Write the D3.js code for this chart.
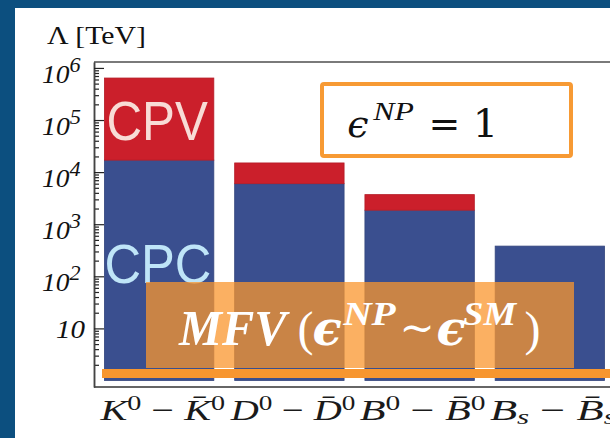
<!DOCTYPE html>
<html>
<head>
<meta charset="utf-8">
<script src="https://cdn.jsdelivr.net/npm/d3@7"></script>
<style>
  html, body { margin: 0; padding: 0; background: #0c4f7f; }
  svg { display: block; }
</style>
</head>
<body>
<svg id="chart" width="610" height="438"></svg>
<script>
// Lower bounds on the new-physics scale Λ for meson mixing (log scale)
const categories = ["K0", "D0", "B0", "Bs"];
const cpcValues = [1.7e4, 6.0e3, 1.86e3, 380];     // CP-conserving bound
const cpvValues = [6.4e5, 1.5e4, 3.7e3, null];     // CP-violating bound
const majorTicks = [10, 1e2, 1e3, 1e4, 1e5, 1e6];
const tickExponents = ["", "2", "3", "4", "5", "6"];
const categoryLabels = [
  [["K", "i"], ["0", "sup"], [" \u2212 ", ""], ["K\u0304", "i"], ["0", "sup"]],
  [["D", "i"], ["0", "sup"], [" \u2212 ", ""], ["D\u0304", "i"], ["0", "sup"]],
  [["B", "i"], ["0", "sup"], [" \u2212 ", ""], ["B\u0304", "i"], ["0", "sup"]],
  [["B", "i"], ["s", "sub"], [" \u2212 ", ""], ["B\u0304", "i"], ["s", "sub"]]
];

const svg = d3.select("#chart");
const serif = "'Liberation Serif', 'DejaVu Serif', serif";
const mathFont = "'DejaVu Serif', 'Liberation Serif', serif";

// slide background and white panel
svg.append("rect").attr("width", 610).attr("height", 438).attr("fill", "#0c4f7f");
svg.append("rect").attr("x", 15).attr("y", 8).attr("width", 595).attr("height", 430).attr("fill", "#ffffff");

const plot = { left: 94, top: 62, right: 610, bottom: 387 };

const y = d3.scaleLog().domain([0.75, 1.3e6]).range([plot.bottom, plot.top]);
const x = d3.scaleBand().domain(categories).range([94, 615]).paddingInner(0.16).paddingOuter(0.08);

const red = "#cb1f2b";
const blue = "#3a4f8f";

// squeeze a text group horizontally so that it spans [x0, x1]
function fit(sel, x0, x1) {
  const b = sel.node().getBBox();
  const sx = (x1 - x0) / b.width;
  sel.attr("transform", `translate(${x0},0) scale(${sx},1) translate(${-b.x},0)`);
  return sel;
}

// frame
svg.append("line").attr("x1", plot.left).attr("x2", plot.right).attr("y1", plot.top).attr("y2", plot.top)
  .attr("stroke", "#7a7a7a").attr("stroke-width", 2);
svg.append("line").attr("x1", plot.left).attr("x2", plot.right).attr("y1", plot.bottom).attr("y2", plot.bottom)
  .attr("stroke", "#333").attr("stroke-width", 1.5);

// ticks on the left axis (drawn inward)
const minorTicks = [];
for (let d = 1; d <= 1e5; d *= 10) for (let k = 2; k <= 9; k++) minorTicks.push(d * k);
const axisG = svg.append("g").attr("transform", `translate(${plot.left},0)`);
axisG.call(d3.axisLeft(y).tickValues(minorTicks).tickSize(-5).tickSizeOuter(0).tickFormat(""));
const axisMajor = svg.append("g").attr("transform", `translate(${plot.left},0)`);
axisMajor.call(d3.axisLeft(y).tickValues(majorTicks).tickSize(-10).tickSizeOuter(0).tickFormat(""));
svg.selectAll(".tick line").attr("stroke", "#222").attr("stroke-width", 1.2);
svg.selectAll(".domain").attr("stroke", "#444").attr("stroke-width", 1.5);

// bars: CPC from 1 to the CPC bound, CPV stacked on top up to its bound
const bars = svg.append("g");
categories.forEach((c, i) => {
  bars.append("rect")
    .attr("x", x(c)).attr("width", x.bandwidth())
    .attr("y", y(cpcValues[i])).attr("height", y(1) - y(cpcValues[i]))
    .attr("fill", blue).attr("stroke", "#33457d").attr("stroke-width", 0.8);
  if (cpvValues[i] != null) {
    bars.append("rect")
      .attr("x", x(c)).attr("width", x.bandwidth())
      .attr("y", y(cpvValues[i])).attr("height", y(cpcValues[i]) - y(cpvValues[i]))
      .attr("fill", red).attr("stroke", "#b51c27").attr("stroke-width", 0.8);
  }
});

// CPV / CPC captions inside the kaon bar
const kx = x("K0");
const cpv = svg.append("text").attr("y", 140).attr("font-family", "'Liberation Sans', Arial, sans-serif")
  .attr("font-size", 56).attr("fill", "#f8dcd6").text("CPV");
fit(cpv, kx + 2, kx + 104);
const cpc = svg.append("text").attr("y", 283).attr("font-family", "'Liberation Sans', Arial, sans-serif")
  .attr("font-size", 56).attr("fill", "#bfe5f8").text("CPC");
fit(cpc, kx, kx + 107);

// y tick labels
majorTicks.forEach((v, i) => {
  const exp = tickExponents[i];
  const t = svg.append("text").attr("font-family", serif).attr("font-style", "italic").attr("fill", "#111");
  if (exp) {
    t.append("tspan").attr("y", y(v) + 15).attr("font-size", 26).text("10");
    t.append("tspan").attr("y", y(v) + 4).attr("font-size", 21).text(exp);
    fit(t, 42, 81);
  } else {
    t.append("tspan").attr("y", y(v) + 10).attr("font-size", 26).text("10");
    fit(t, 56, 85);
  }
});

// axis title
const title = svg.append("text").attr("y", 44).attr("font-family", serif).attr("font-size", 26)
  .attr("fill", "#111").text("\u039B [TeV]");
fit(title, 47, 146);

// category labels
categories.forEach((c, i) => {
  const cx = x(c) + x.bandwidth() / 2 + 3;
  const base = 420;
  const t = svg.append("text").attr("font-family", serif).attr("fill", "#1a1a1a");
  categoryLabels[i].forEach(([s, kind]) => {
    const sp = t.append("tspan").text(s);
    if (kind === "i") sp.attr("font-style", "italic").attr("font-size", 30).attr("y", base);
    else if (kind === "sup") sp.attr("font-size", 21).attr("y", base - 10);
    else if (kind === "sub") sp.attr("font-style", "italic").attr("font-size", 21).attr("y", base + 4);
    else sp.attr("font-size", 30).attr("y", base);
  });
  fit(t, cx - 63, cx + 63);
});

// orange MFV band and baseline marker
svg.append("rect").attr("x", 102).attr("y", 369).attr("width", 508).attr("height", 9).attr("fill", "#f7962f");
svg.append("rect").attr("x", 146).attr("y", 282).attr("width", 428).attr("height", 86)
  .attr("fill", "rgb(249,150,46)").attr("fill-opacity", 0.75);

function piece(text, x0, x1, base, size, opts) {
  const t = svg.append("text").attr("y", base).attr("font-family", opts.family || mathFont)
    .attr("font-size", size).attr("fill", opts.fill)
    .attr("font-style", opts.italic ? "italic" : "normal")
    .attr("font-weight", opts.bold ? "bold" : "normal")
    .text(text);
  if (opts.center) {
    t.attr("x", (x0 + x1) / 2).attr("text-anchor", "middle");
  } else {
    fit(t, x0, x1);
  }
  return t;
}

const w = "#ffffff";
piece("MFV", 178, 290, 345, 50, { fill: w, italic: true, bold: true, family: serif });
piece("(", 298, 313, 345, 48, { fill: w, center: true, family: serif });
piece("\u03F5", 317, 337, 345, 48, { fill: w, italic: true, bold: true, center: true });
piece("NP", 342, 396, 325, 34, { fill: w, italic: true, bold: true, family: serif });
piece("~", 400, 434, 342, 42, { fill: w, center: true });
piece("\u03F5", 440, 462, 345, 48, { fill: w, italic: true, bold: true, center: true });
piece("SM", 463, 518, 325, 34, { fill: w, italic: true, bold: true, family: serif });
piece(")", 523, 542, 345, 48, { fill: w, center: true, family: serif });

// ε^NP = 1 box
svg.append("rect").attr("x", 322).attr("y", 84).attr("width", 249).attr("height", 72).attr("rx", 2)
  .attr("fill", "none").attr("stroke", "#f79a34").attr("stroke-width", 4);
const k = "#111111";
piece("\u03F5", 349, 367, 137, 38, { fill: k, italic: true, center: true });
piece("NP", 372, 414, 120, 26, { fill: k, italic: true, family: serif });
piece("=", 430, 459, 137, 38, { fill: k, center: true });
piece("1", 476, 495, 137, 40, { fill: k, center: true });
</script>
</body>
</html>
